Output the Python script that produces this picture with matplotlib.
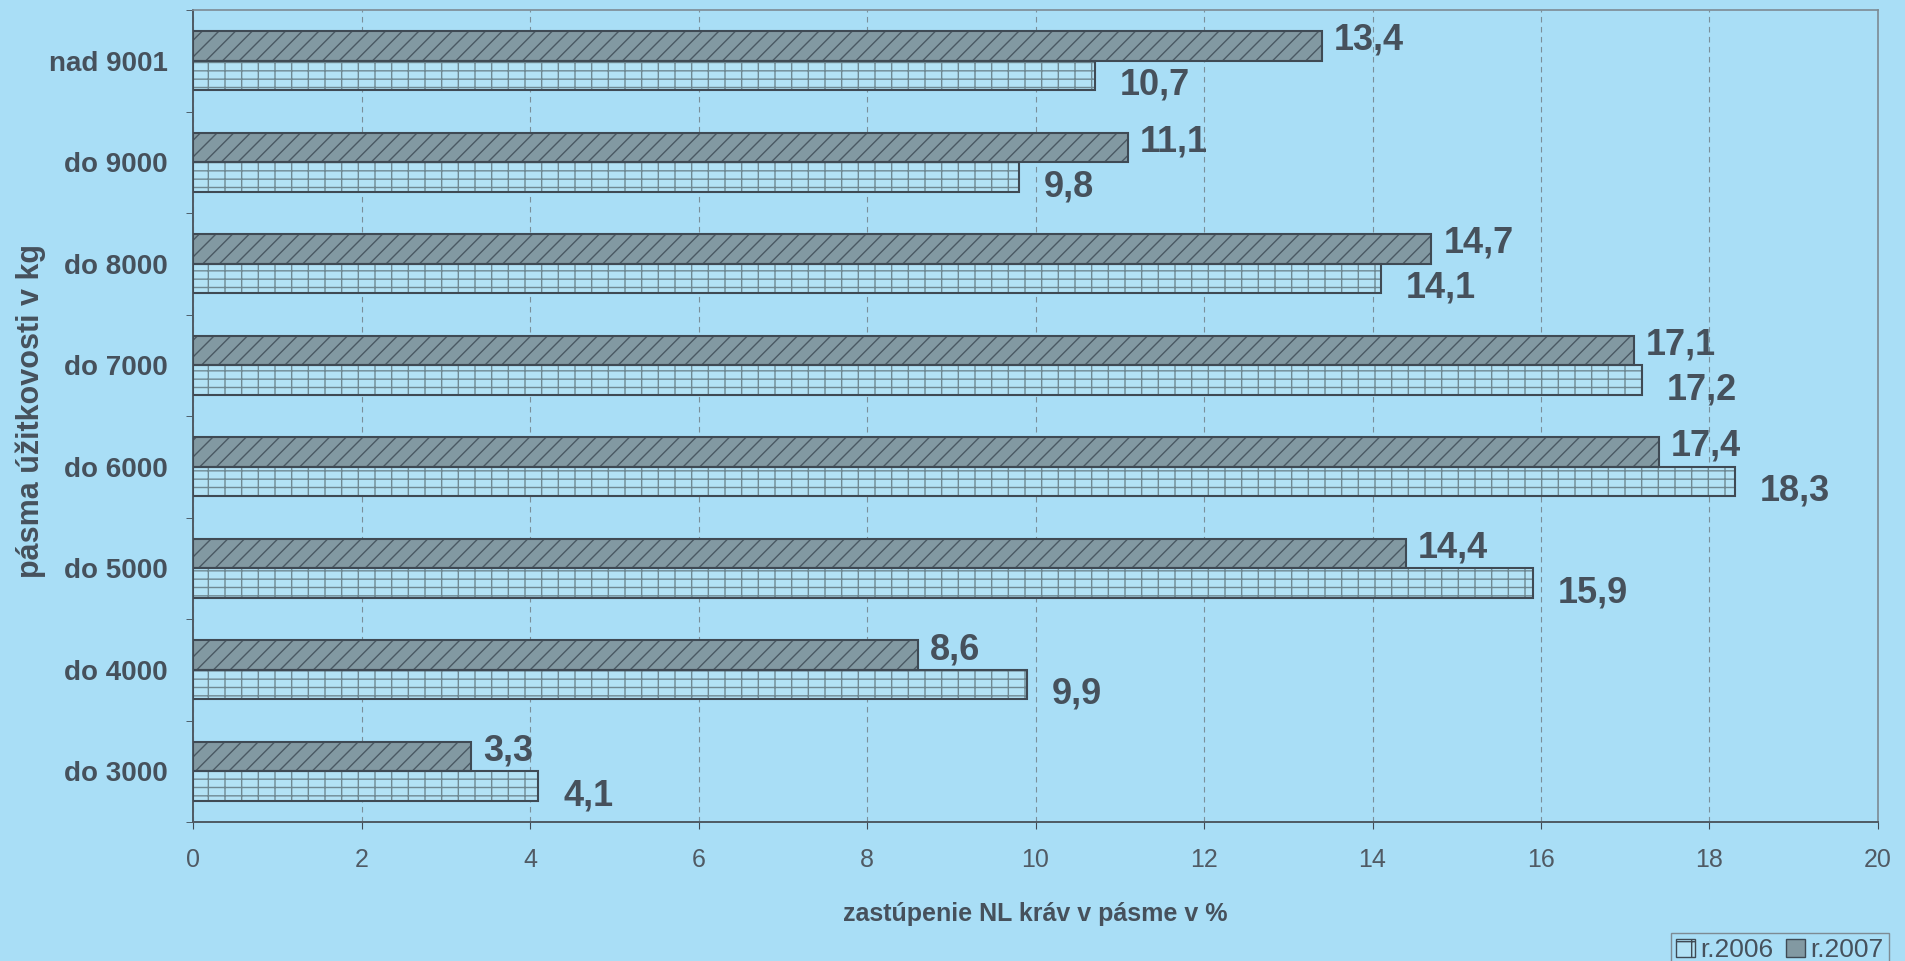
## pasma uzitkovosti NL krav - porovnanie r.2006 a r.2007
import numpy as np
import matplotlib.pyplot as plt
from matplotlib.patches import Patch

## data (zdola nahor ako v grafe)
bands = ['do 3000', 'do 4000', 'do 5000', 'do 6000', 'do 7000', 'do 8000', 'do 9000', 'nad 9001']
share2006 = [4.1, 9.9, 15.9, 18.3, 17.2, 14.1, 9.8, 10.7]
share2007 = [3.3, 8.6, 14.4, 17.4, 17.1, 14.7, 11.1, 13.4]
xTicks = [0, 2, 4, 6, 8, 10, 12, 14, 16, 18, 20]
seriesNames = ['r.2006', 'r.2007']

## farby
bg = '#a9def6'
ink = '#46515c'
edge = '#3f4a54'
light = '#b3e2f5'
dark = '#8299a2'

plt.rcParams['font.family'] = ['Liberation Sans', 'DejaVu Sans']
plt.rcParams['hatch.linewidth'] = 1.0

fig = plt.figure(figsize=(19.06, 9.61), dpi=100, facecolor=bg)
ax = fig.add_axes([0.1013, 0.1446, 0.8840, 0.8450])
ax.set_facecolor(bg)

y = np.arange(len(bands))
h = 0.29

## r.2006 - svetle tehlicky
ax.barh(y - h / 2, share2006, height=h, color=light, edgecolor='#6f8993', hatch='--|', linewidth=0, zorder=2)
ax.barh(y - h / 2, share2006, height=h, fill=False, edgecolor=edge, linewidth=1.5, zorder=3)

## r.2007 - tmave sikme
ax.barh(y + h / 2, share2007, height=h, color=dark, edgecolor='#4a5963', hatch='//', linewidth=0, zorder=2)
ax.barh(y + h / 2, share2007, height=h, fill=False, edgecolor=edge, linewidth=1.5, zorder=3)

## popisky hodnot
for yi, v in zip(y, share2007):
    ax.annotate(f'{v:.1f}'.replace('.', ','), (v, yi + h / 2), xytext=(8.5, 4),
                textcoords='offset points', ha='left', va='center',
                fontsize=26, fontweight='bold', color=ink, zorder=4)
for yi, v in zip(y, share2006):
    ax.annotate(f'{v:.1f}'.replace('.', ','), (v, yi - h / 2), xytext=(18, -7),
                textcoords='offset points', ha='left', va='center',
                fontsize=26, fontweight='bold', color=ink, zorder=4)

## osi
ax.set_xlim(0, 20)
ax.set_ylim(-0.5, len(bands) - 0.5)
ax.set_xticks(xTicks)
ax.set_xticklabels([str(t) for t in xTicks])
ax.set_yticks(y)
ax.set_yticklabels(bands)
ax.set_yticks(np.arange(-0.5, len(bands), 1), minor=True)

ax.tick_params(axis='x', which='major', length=5, direction='out', color=edge,
               pad=14, labelsize=18, labelcolor='#505a64')
ax.tick_params(axis='y', which='major', length=0, pad=18.5, labelsize=20, labelcolor=ink)
for lab in ax.get_yticklabels():
    lab.set_fontweight('bold')
ax.tick_params(axis='y', which='minor', length=5, direction='out', color=edge)

ax.grid(axis='x', linestyle=(0, (5, 4)), color='#7b8f9a', linewidth=0.8, zorder=1)
ax.set_axisbelow(True)

for side in ['left', 'bottom']:
    ax.spines[side].set_color('#4e5a64')
    ax.spines[side].set_linewidth(1.4)
for side in ['top', 'right']:
    ax.spines[side].set_color('#7d8b94')
    ax.spines[side].set_linewidth(1.2)

## nazvy osi
pos = ax.get_position()
fig.text((pos.x0 + pos.x1) / 2, 1 - 914 / 961, 'zastúpenie NL kráv v pásme v %',
         ha='center', va='center', fontsize=18, fontweight='bold', color=ink)
fig.text(31 / 1906, 1 - 411 / 961, 'pásma úžitkovosti v kg', rotation=90,
         ha='center', va='center', fontsize=22, fontweight='bold', color=ink)

## legenda
handles = [Patch(facecolor=light, edgecolor=edge, hatch='+'),
           Patch(facecolor=dark, edgecolor=edge)]
fig.legend(handles, seriesNames, loc='upper left', bbox_to_anchor=(1671 / 1906, 1 - 933 / 961),
           ncol=2, fontsize=19, frameon=True, fancybox=False, edgecolor='#7d8b94',
           facecolor=bg, framealpha=1, borderpad=0.2, handlelength=0.7, handleheight=0.7,
           handletextpad=0.2, columnspacing=0.5, borderaxespad=0, labelcolor=ink)

fig.savefig('out.png', dpi=100, facecolor=bg)
